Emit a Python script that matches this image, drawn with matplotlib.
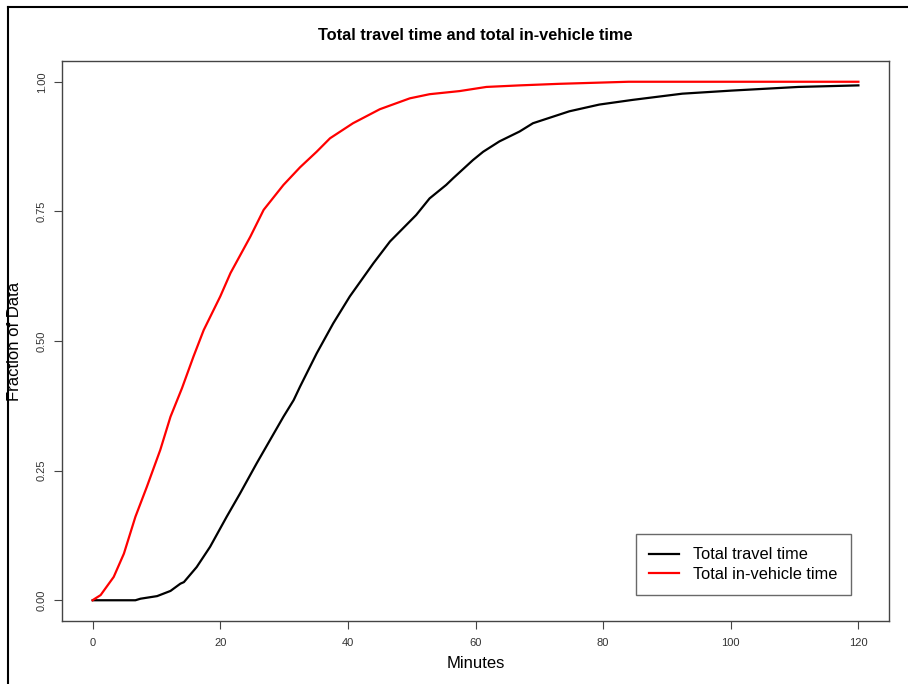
import matplotlib
matplotlib.use("Agg")
import matplotlib.pyplot as plt
from matplotlib.lines import Line2D

plt.rcParams['font.family'] = ['Liberation Sans', 'DejaVu Sans']

# cumulative share of trips by minutes
travel_min = [0, 6.7, 7.5, 10.1, 12.2, 13.75, 14.3, 16.3, 18.4, 21.0, 23.1, 25.7, 27.8,
              29.9, 31.5, 32.5, 35.1, 37.7, 40.3, 44.0, 46.6, 50.7, 52.8, 55.4, 56.5,
              59.6, 61.2, 63.75, 66.9, 69.0, 74.7, 79.4, 84.6, 92.4, 100.2, 110.6, 120]
travel_frac = [0, 0.0, 0.003, 0.008, 0.018, 0.032, 0.035, 0.064, 0.103, 0.161, 0.206,
               0.264, 0.309, 0.354, 0.386, 0.412, 0.476, 0.534, 0.586, 0.650, 0.692,
               0.743, 0.775, 0.801, 0.814, 0.849, 0.865, 0.885, 0.904, 0.920, 0.943,
               0.956, 0.965, 0.977, 0.983, 0.990, 0.993]

invehicle_min = [0, 0.1, 1.25, 3.3, 4.9, 6.7, 8.5, 10.6, 12.2, 14.0, 15.8, 17.4, 20.0,
                 21.6, 24.7, 26.8, 29.9, 32.5, 35.1, 37.2, 40.8, 45.0, 49.7, 52.8,
                 57.5, 61.7, 66.9, 73.1, 84.0, 120]
invehicle_frac = [0, 0.001, 0.01, 0.045, 0.09, 0.161, 0.219, 0.29, 0.354, 0.409, 0.470,
                  0.521, 0.586, 0.631, 0.701, 0.753, 0.801, 0.835, 0.865, 0.891, 0.920,
                  0.947, 0.968, 0.976, 0.982, 0.990, 0.993, 0.996, 1.0, 1.0]

x_ticks = [0, 20, 40, 60, 80, 100, 120]
y_ticks = [0, 0.25, 0.5, 0.75, 1.0]
y_labels = ["0.00", "0.25", "0.50", "0.75", "1.00"]

fig = plt.figure(figsize=(9.08, 6.84), dpi=100)
ax = fig.add_axes([0.0683, 0.0921, 0.9108, 0.8187])

ax.plot(travel_min, travel_frac, color='black', lw=1.6, label='Total travel time')
ax.plot(invehicle_min, invehicle_frac, color='red', lw=1.6, label='Total in-vehicle time')

ax.set_xlim(-4.8, 124.8)
ax.set_ylim(-0.04, 1.04)
ax.set_xticks(x_ticks)
ax.set_yticks(y_ticks)
ax.set_yticklabels(y_labels, rotation=90, va='center')
ax.tick_params(axis='both', length=6, width=0.8, color='#444444',
               labelsize=8, labelcolor='#333333')
ax.tick_params(axis='x', pad=6)
ax.tick_params(axis='y', pad=5)
for s in ax.spines.values():
    s.set_color('#444444')
    s.set_linewidth(1.0)

ax.set_title('Total travel time and total in-vehicle time', fontsize=11.8,
             fontweight='bold', pad=15)
ax.set_xlabel('Minutes', fontsize=12, labelpad=6)
fig.text(15 / 908, 1 - 341 / 684, 'Fraction of Data', fontsize=12,
         rotation=90, ha='center', va='center')

leg = ax.legend(loc='upper left', bbox_to_anchor=(0.7001, 0.2193),
                bbox_transform=fig.transFigure, fontsize=11.8, frameon=True,
                fancybox=False, edgecolor='#444444', handlelength=1.8,
                handletextpad=0.9, borderpad=0.82, labelspacing=0.25,
                borderaxespad=0)
leg.get_frame().set_linewidth(1.0)

# outer frame on the left and top edges
fig.add_artist(Line2D([8 / 908, 8 / 908], [0, 1 - 7 / 684], color='black', lw=1.5,
                      transform=fig.transFigure))
fig.add_artist(Line2D([8 / 908, 1], [1 - 7 / 684, 1 - 7 / 684], color='black', lw=1.5,
                      transform=fig.transFigure))

fig.savefig('out.png', dpi=100)
